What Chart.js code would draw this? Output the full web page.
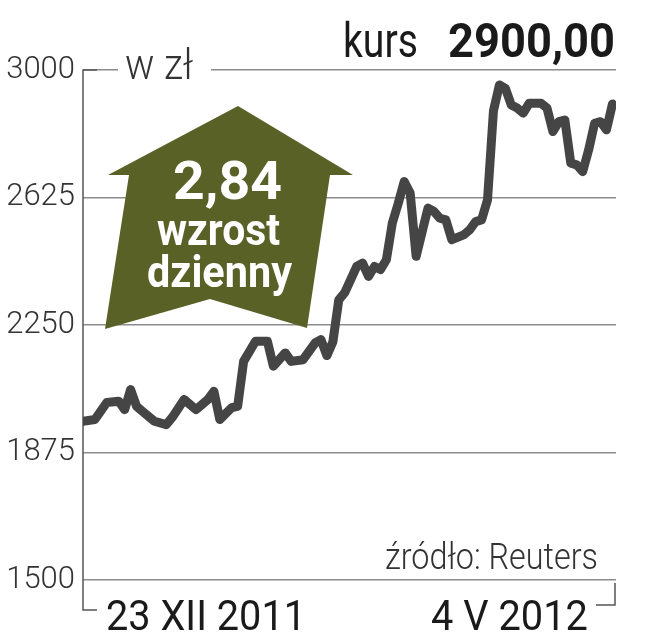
<!DOCTYPE html>
<html>
<head>
<meta charset="utf-8">
<title>kurs 2900,00</title>
<script src="https://cdn.jsdelivr.net/npm/chart.js@4"></script>
<style>
  html, body { margin: 0; padding: 0; background: #fff; }
  #wrap { width: 648px; height: 640px; }
</style>
</head>
<body>
<div id="wrap"><canvas id="priceChart" width="648" height="640"></canvas></div>
<script>
// session number counted from 23 XII 2011 (0) to 4 V 2012 (89)
const sessions = [0, 2, 4, 6, 7, 8, 9, 10, 12, 14, 15, 17, 19, 21, 22, 23, 25, 26, 27, 29,
  31, 32, 34, 35, 37, 39, 40, 41, 42, 43, 44, 46, 47, 48, 49, 50, 51, 52, 53, 54,
  55, 56, 58, 59, 60, 61, 62, 64, 65, 66, 67, 68, 69, 70, 71, 72, 73, 74, 75, 77,
  78, 79, 80, 81, 82, 83, 84, 85, 86, 87, 88, 89];
const closePrices = [1967, 1972, 2022, 2026, 2001, 2060, 2011, 1996, 1967, 1957, 1978, 2031, 2001, 2031, 2055, 1972, 2007, 2011, 2143, 2202,
  2202, 2129, 2168, 2143, 2148, 2197, 2207, 2160, 2200, 2324, 2345, 2422, 2432, 2393, 2422, 2413, 2442, 2550, 2608, 2672,
  2638, 2452, 2594, 2584, 2564, 2559, 2501, 2515, 2530, 2554, 2559, 2618, 2880, 2956, 2946, 2897, 2888, 2873, 2902, 2902,
  2888, 2819, 2848, 2853, 2726, 2721, 2701, 2765, 2843, 2848, 2824, 2900];
const yTicks = [1500, 1875, 2250, 2625, 3000];
const dateLabels = ['23 XII 2011', '4 V 2012'];
const unitLabel = 'w zł';
const titleLabel = 'kurs';
const titleValue = '2900,00';
const changeValue = '2,84';
const changeLines = ['wzrost', 'dzienny'];
const sourceLabel = 'źródło: Reuters';

const points = sessions.map((s, i) => ({ x: s, y: closePrices[i] }));

// draw text squeezed/stretched into a given horizontal span
function fitText(ctx, text, font, left, right, baseline, color) {
  ctx.save();
  ctx.font = font;
  const w = ctx.measureText(text).width;
  ctx.translate(left, baseline);
  ctx.scale((right - left) / w, 1);
  ctx.fillStyle = color;
  ctx.textAlign = 'left';
  ctx.textBaseline = 'alphabetic';
  ctx.fillText(text, 0, 0);
  ctx.restore();
}

const decorPlugin = {
  id: 'decor',
  beforeDatasetsDraw(chart) {
    const ctx = chart.ctx;
    const a = chart.chartArea;
    ctx.save();
    // gap in the top grid line for the unit label
    ctx.fillStyle = '#fff';
    ctx.fillRect(118, a.top - 4, 93, 8);

    // frame: left axis with corner, right corner bracket
    ctx.strokeStyle = '#555';
    ctx.lineWidth = 1.5;
    ctx.beginPath();
    ctx.moveTo(a.left + 14, a.top);
    ctx.lineTo(a.left, a.top);
    ctx.lineTo(a.left, 610);
    ctx.lineTo(a.left + 14, 610);
    ctx.moveTo(a.right - 20, 605);
    ctx.lineTo(a.right - 1, 605);
    ctx.lineTo(a.right - 1, 583);
    ctx.stroke();

    // olive arrow
    ctx.fillStyle = '#596126';
    ctx.beginPath();
    ctx.moveTo(238, 106);
    ctx.lineTo(353, 175);
    ctx.lineTo(330, 175);
    ctx.lineTo(307, 328);
    ctx.lineTo(210, 299);
    ctx.lineTo(105, 329);
    ctx.lineTo(129, 175);
    ctx.lineTo(108, 175);
    ctx.closePath();
    ctx.fill();
    ctx.restore();
  },
  afterDatasetsDraw(chart) {
    const ctx = chart.ctx;
    fitText(ctx, changeValue, 'bold 53px Roboto', 173, 282, 199, '#fff');
    fitText(ctx, changeLines[0], 'bold 45px Roboto', 157, 280, 245, '#fff');
    fitText(ctx, changeLines[1], 'bold 45px Roboto', 147, 292, 287, '#fff');

    fitText(ctx, titleLabel, '400 48px Roboto', 343, 418, 57, '#1a1a1a');
    fitText(ctx, titleValue, 'bold 48px Roboto', 448, 615, 57, '#1a1a1a');

    fitText(ctx, unitLabel, '300 42px Roboto', 125, 193, 79, '#333');
    fitText(ctx, sourceLabel, '300 36px Roboto', 385, 598, 569, '#333');

    fitText(ctx, dateLabels[0], '400 43px Roboto', 106, 306, 630, '#1a1a1a');
    fitText(ctx, dateLabels[1], '400 43px Roboto', 431, 588, 630, '#1a1a1a');
  }
};

new Chart(document.getElementById('priceChart').getContext('2d'), {
  type: 'line',
  data: {
    datasets: [{
      label: 'kurs',
      data: points,
      borderColor: '#454545',
      borderWidth: 9,
      borderJoinStyle: 'round',
      borderCapStyle: 'round',
      pointRadius: 0,
      tension: 0,
      fill: false,
    }],
  },
  options: {
    responsive: false,
    animation: false,
    devicePixelRatio: 1,
    layout: {
      padding: { top: 70, bottom: 60, left: 0, right: 32 },
    },
    plugins: {
      legend: { display: false },
      tooltip: { enabled: false },
    },
    scales: {
      x: {
        type: 'linear',
        min: 0,
        max: 89.6,
        display: false,
      },
      y: {
        min: yTicks[0],
        max: yTicks[yTicks.length - 1],
        afterFit: (scale) => { scale.width = 83; },
        afterBuildTicks: (scale) => { scale.ticks = yTicks.map((v) => ({ value: v })); },
        border: { display: false },
        grid: {
          color: '#8c8c8c',
          lineWidth: 1.5,
          drawTicks: false,
        },
        ticks: {
          padding: 8,
          color: '#333',
          font: { family: 'Roboto', size: 31, weight: '300' },
          callback: (v) => String(v),
        },
      },
    },
  },
  plugins: [decorPlugin],
});
</script>
</body>
</html>
